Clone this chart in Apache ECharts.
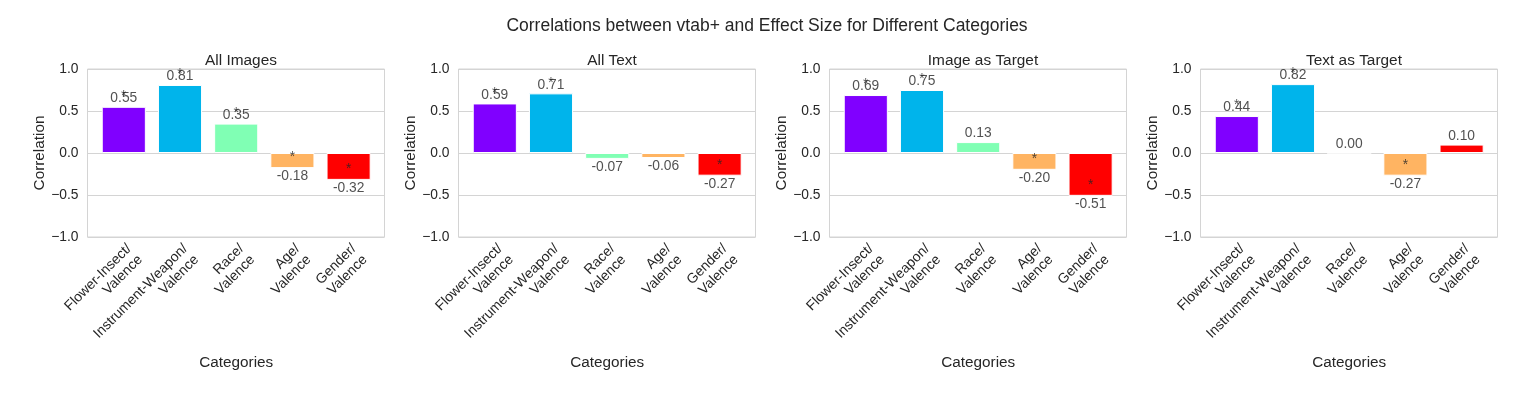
<!DOCTYPE html>
<html>
<head>
<meta charset="utf-8">
<script src="https://cdn.jsdelivr.net/npm/echarts@6/dist/echarts.min.js"></script>
<style>
  html, body { margin: 0; padding: 0; background: #fff; }
  #chart { width: 1518px; height: 398px; }
</style>
</head>
<body>
<div id="chart"></div>
<script>
// data
const categories = ['Flower-Insect/\nValence', 'Instrument-Weapon/\nValence', 'Race/\nValence', 'Age/\nValence', 'Gender/\nValence'];
const panelTitles = ['All Images', 'All Text', 'Image as Target', 'Text as Target'];
const allImages = [0.55, 0.81, 0.35, -0.18, -0.32];
const allText = [0.59, 0.71, -0.07, -0.06, -0.27];
const imageTarget = [0.69, 0.75, 0.13, -0.20, -0.51];
const textTarget = [0.44, 0.82, 0.00, -0.27, 0.10];
// significance stars (1 = "*")
const sigAllImages = [1, 1, 1, 1, 1];
const sigAllText = [1, 1, 0, 0, 1];
const sigImageTarget = [1, 1, 0, 1, 1];
const sigTextTarget = [1, 1, 0, 1, 0];
const yTicks = [-1.0, -0.5, 0.0, 0.5, 1.0];

const panelValues = [allImages, allText, imageTarget, textTarget];
const panelSig = [sigAllImages, sigAllText, sigImageTarget, sigTextTarget];
const barColors = ['#8000ff', '#00b4eb', '#80ffb4', '#ffb462', '#ff0000'];

const textColor = '#262626';
const lineColor = '#d4d4d4';
const font = 'Liberation Sans, Arial, sans-serif';

// layout
const panelLefts = [87.5, 458.5, 829.5, 1200.5];
const panelW = 297, panelTop = 69, panelH = 168;
const barInset = 8.2, barGridW = 281;

const chart = echarts.init(document.getElementById('chart'));

const grid = [], xAxis = [], yAxis = [], series = [];
const title = [{
  text: 'Correlations between vtab+ and Effect Size for Different Categories',
  left: 762, top: 12, textAlign: 'center',
  textStyle: { fontFamily: font, fontSize: 17.5, fontWeight: 'normal', color: textColor }
}];

panelLefts.forEach((L, p) => {
  title.push({
    text: panelTitles[p],
    left: L + panelW / 2, top: 48, textAlign: 'center',
    textStyle: { fontFamily: font, fontSize: 15.4, fontWeight: 'normal', color: textColor }
  });
  // frame grid (box + y axis)
  grid.push({
    left: L, top: panelTop, width: panelW, height: panelH,
    show: true, borderColor: lineColor, borderWidth: 1
  });
  // bar grid
  grid.push({ left: L + barInset, top: panelTop, width: barGridW, height: panelH });

  xAxis.push({ type: 'value', gridIndex: 2 * p, min: 0, max: 1, show: false });
  xAxis.push({
    type: 'category', gridIndex: 2 * p + 1, data: categories,
    axisLine: { show: false }, axisTick: { show: false },
    axisLabel: {
      rotate: 45, interval: 0, margin: 4, align: 'right', verticalAlign: 'top',
      fontFamily: font, fontSize: 14, color: textColor, lineHeight: 15.5
    },
    name: 'Categories', nameLocation: 'middle', nameGap: 118,
    nameTextStyle: { fontFamily: font, fontSize: 15.3, color: textColor }
  });

  yAxis.push({
    type: 'value', gridIndex: 2 * p, min: yTicks[0], max: yTicks[yTicks.length - 1], interval: 0.5,
    axisLine: { show: false }, axisTick: { show: false },
    splitLine: { lineStyle: { color: lineColor, width: 1 } },
    axisLabel: {
      margin: 9, fontFamily: font, fontSize: 13.8, color: textColor,
      formatter: v => (v < 0 ? '\u2212' : '') + Math.abs(v).toFixed(1)
    },
    name: 'Correlation', nameLocation: 'middle', nameGap: 36,
    nameTextStyle: { fontFamily: font, fontSize: 15.3, color: textColor }
  });
  yAxis.push({ type: 'value', gridIndex: 2 * p + 1, min: -1, max: 1, show: false });

  const vals = panelValues[p];
  series.push({
    type: 'bar', xAxisIndex: 2 * p + 1, yAxisIndex: 2 * p + 1,
    barWidth: '78.5%',
    data: vals.map((v, i) => ({
      value: v,
      itemStyle: { color: barColors[i], borderColor: '#fff', borderWidth: 1 }
    })),
    silent: true
  });
  // value labels
  series.push({
    type: 'scatter', xAxisIndex: 2 * p + 1, yAxisIndex: 2 * p + 1,
    symbolSize: 1, itemStyle: { color: 'rgba(0,0,0,0)' }, silent: true,
    data: vals.map((v, i) => ({
      value: [i, v],
      label: {
        show: true, position: v < 0 ? 'bottom' : 'top', distance: 1,
        formatter: v.toFixed(2), fontFamily: font, fontSize: 13.8, color: textColor
      }
    }))
  });
  // stars
  series.push({
    type: 'scatter', xAxisIndex: 2 * p + 1, yAxisIndex: 2 * p + 1,
    symbolSize: 1, itemStyle: { color: 'rgba(0,0,0,0)' }, silent: true,
    data: vals.map((v, i) => ({ value: [i, v], sig: panelSig[p][i] }))
      .filter(d => d.sig)
      .map(d => ({
        value: d.value,
        label: {
          show: true, position: 'top', distance: 3, formatter: '*',
          fontFamily: font, fontSize: 13.8, color: textColor
        }
      }))
  });
});

chart.setOption({
  animation: false,
  backgroundColor: '#fff',
  title, grid, xAxis, yAxis, series
});
</script>
</body>
</html>
